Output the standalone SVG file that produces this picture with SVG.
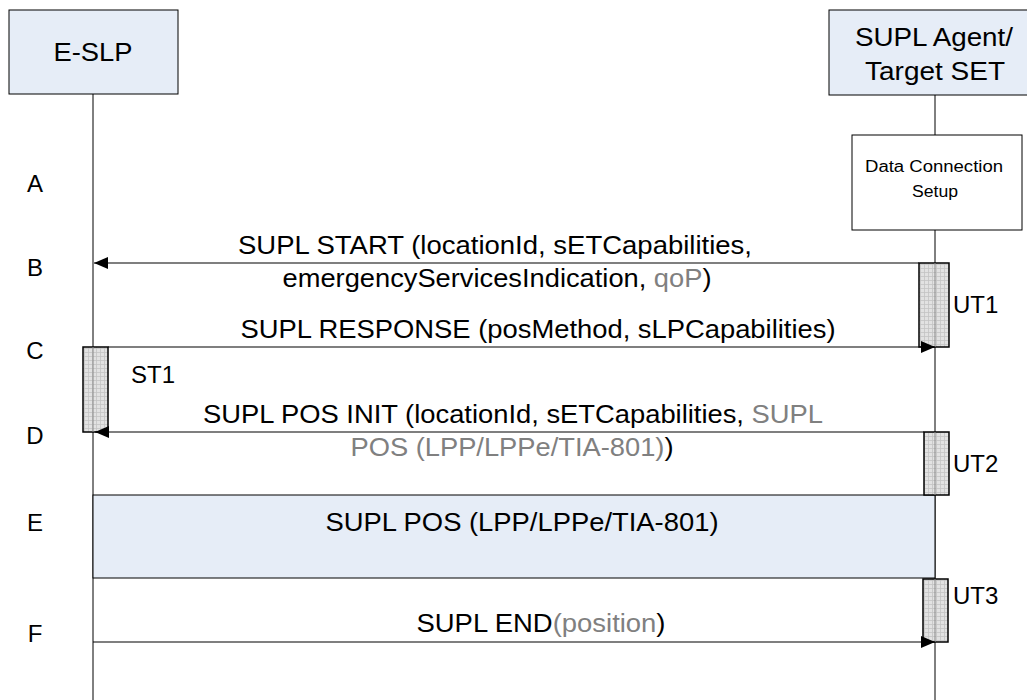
<svg xmlns="http://www.w3.org/2000/svg" width="1027" height="700" viewBox="0 0 1027 700">
<style>
text{font-family:"Liberation Sans",Arial,sans-serif;fill:#000}
.big{font-size:25px}
.lab{font-size:24px}
.sm{font-size:16px}
.g{fill:#808080}
.life{stroke:#000;stroke-width:1}
.msg{stroke:#000;stroke-width:1.2;fill:none}
.ent{fill:#e6edf7;stroke:#000;stroke-width:1}
.act{fill:url(#grid);stroke:#000;stroke-width:1.5}
</style>
<defs>
<pattern id="grid" width="4" height="4" patternUnits="userSpaceOnUse">
<rect width="4" height="4" fill="#e2e2e2"/>
<path d="M0 0.5H4M0.5 0V4" stroke="#c4c4c4" stroke-width="0.8"/>
</pattern>
<marker id="ah" viewBox="0 0 14 12" refX="14" refY="6" markerWidth="14" markerHeight="12" markerUnits="userSpaceOnUse" orient="auto">
<path d="M0 0L14 6L0 12Z" fill="#000"/>
</marker>
</defs>
<rect width="1027" height="700" fill="#fff"/>

<g id="lifelines">
<line class="life" x1="93" y1="94" x2="93" y2="700"/>
<line class="life" x1="935" y1="95" x2="935" y2="700"/>
</g>

<g id="eslp">
<rect class="ent" x="9" y="10" width="169" height="84"/>
<text class="big" x="93" y="61" text-anchor="middle" textLength="79" lengthAdjust="spacingAndGlyphs">E-SLP</text>
</g>

<g id="agent">
<rect class="ent" x="829" y="10" width="212" height="85"/>
<text class="big" x="934" y="46" text-anchor="middle" textLength="158" lengthAdjust="spacingAndGlyphs">SUPL Agent/</text>
<text class="big" x="935" y="80" text-anchor="middle" textLength="140" lengthAdjust="spacingAndGlyphs">Target SET</text>
</g>

<g id="dcs">
<rect x="852" y="135" width="170" height="95" fill="#fff" stroke="#000" stroke-width="1"/>
<text class="sm" x="934" y="172" text-anchor="middle" textLength="138" lengthAdjust="spacingAndGlyphs">Data Connection</text>
<text class="sm" x="935" y="197" text-anchor="middle" textLength="46" lengthAdjust="spacingAndGlyphs">Setup</text>
</g>

<g id="labels">
<text class="lab" x="35" y="192" text-anchor="middle">A</text>
<text class="lab" x="35" y="276" text-anchor="middle">B</text>
<text class="lab" x="35" y="359" text-anchor="middle">C</text>
<text class="lab" x="35" y="444" text-anchor="middle">D</text>
<text class="lab" x="35" y="531" text-anchor="middle">E</text>
<text class="lab" x="35" y="642" text-anchor="middle">F</text>
</g>

<g id="posbox">
<rect class="ent" x="93" y="495" width="842" height="83"/>
<text class="big" x="522" y="531" text-anchor="middle" textLength="393" lengthAdjust="spacingAndGlyphs">SUPL POS (LPP/LPPe/TIA-801)</text>
</g>

<g id="activations">
<g id="UT1"><rect class="act" x="919" y="263" width="30" height="84"/><line x1="935" y1="263" x2="935" y2="347" stroke="#888" stroke-width="1"/><text class="lab" x="953" y="313">UT1</text></g>
<g id="ST1"><rect class="act" x="83" y="347" width="25" height="85"/><line x1="93" y1="347" x2="93" y2="432" stroke="#888" stroke-width="1"/><text class="lab" x="131" y="383">ST1</text></g>
<g id="UT2"><rect class="act" x="924" y="432" width="25" height="63"/><line x1="935" y1="432" x2="935" y2="495" stroke="#888" stroke-width="1"/><text class="lab" x="953" y="472">UT2</text></g>
<g id="UT3"><rect class="act" x="923" y="579" width="25" height="63"/><line x1="935" y1="579" x2="935" y2="642" stroke="#888" stroke-width="1"/><text class="lab" x="953" y="604">UT3</text></g>
</g>

<g id="connectors">
<line class="msg" x1="919" y1="263" x2="94" y2="263" marker-end="url(#ah)"/>
<line class="msg" x1="108" y1="347" x2="935" y2="347" marker-end="url(#ah)"/>
<line class="msg" x1="924" y1="432" x2="95" y2="432" marker-end="url(#ah)"/>
<line class="msg" x1="93" y1="642" x2="935" y2="642" marker-end="url(#ah)"/>
</g>

<g id="msglabels">
<text class="big" x="495" y="254" text-anchor="middle" textLength="514" lengthAdjust="spacingAndGlyphs">SUPL START (locationId, sETCapabilities,</text>
<text class="big" x="497" y="287" text-anchor="middle" textLength="429" lengthAdjust="spacingAndGlyphs">emergencyServicesIndication, <tspan class="g">qoP</tspan>)</text>
<text class="big" x="538" y="338" text-anchor="middle" textLength="595" lengthAdjust="spacingAndGlyphs">SUPL RESPONSE (posMethod, sLPCapabilities)</text>
<text class="big" x="203" y="423" textLength="620" lengthAdjust="spacingAndGlyphs">SUPL POS INIT (locationId, sETCapabilities, <tspan class="g">SUPL</tspan></text>
<text class="big" x="512" y="456" text-anchor="middle" textLength="323" lengthAdjust="spacingAndGlyphs"><tspan class="g">POS (LPP/LPPe/TIA-801)</tspan>)</text>
<text class="big" x="541" y="632" text-anchor="middle" textLength="249" lengthAdjust="spacingAndGlyphs">SUPL END<tspan class="g">(position</tspan>)</text>
</g>
</svg>
